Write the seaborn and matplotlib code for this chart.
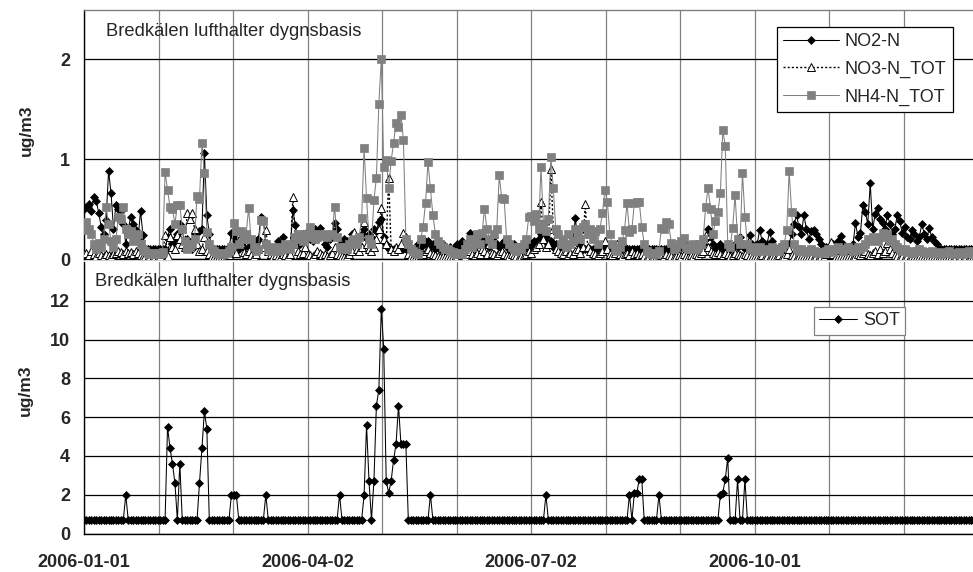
import numpy as np
import pandas as pd
import matplotlib
matplotlib.use("Agg")
import matplotlib.pyplot as plt
import matplotlib.dates as mdates
from matplotlib.ticker import FixedLocator, FixedFormatter
import seaborn as sns

# ---- daily air concentrations, Bredkälen 2006 (ug/m3) ----
start_date = "2006-01-01"

no2 = [
    0.50, 0.52, 0.55, 0.48, 0.62, 0.58, 0.46, 0.32, 0.25, 0.39,
    0.88, 0.66, 0.30, 0.54, 0.50, 0.48, 0.35, 0.15, 0.30, 0.42,
    0.35, 0.29, 0.20, 0.48, 0.24, 0.10, 0.10, 0.10, 0.10, 0.10,
    0.10, 0.10, 0.10, 0.10, 0.22, 0.30, 0.15, 0.20, 0.25, 0.35,
    0.30, 0.12, 0.20, 0.15, 0.10, 0.25, 0.26, 0.28, 0.30, 1.06,
    0.44, 0.25, 0.10, 0.10, 0.10, 0.10, 0.10, 0.10, 0.10, 0.10,
    0.26, 0.22, 0.18, 0.10, 0.15, 0.12, 0.20, 0.12, 0.10, 0.15,
    0.18, 0.20, 0.42, 0.40, 0.15, 0.12, 0.10, 0.10, 0.12, 0.18,
    0.15, 0.22, 0.12, 0.10, 0.12, 0.49, 0.34, 0.20, 0.15, 0.25,
    0.22, 0.28, 0.20, 0.18, 0.30, 0.20, 0.31, 0.25, 0.15, 0.12,
    0.20, 0.25, 0.36, 0.30, 0.15, 0.12, 0.20, 0.18, 0.15, 0.25,
    0.20, 0.15, 0.22, 0.25, 0.30, 0.20, 0.25, 0.22, 0.30, 0.28,
    0.37, 0.40, 0.22, 0.15, 0.10, 0.10, 0.10, 0.10, 0.10, 0.10,
    0.10, 0.10, 0.10, 0.10, 0.10, 0.10, 0.15, 0.12, 0.20, 0.15,
    0.18, 0.12, 0.15, 0.10, 0.12, 0.10, 0.15, 0.12, 0.10, 0.12,
    0.10, 0.12, 0.15, 0.10, 0.18, 0.12, 0.15, 0.26, 0.18, 0.12,
    0.15, 0.20, 0.12, 0.18, 0.15, 0.12, 0.18, 0.22, 0.15, 0.12,
    0.15, 0.18, 0.12, 0.10, 0.12, 0.15, 0.10, 0.12, 0.10, 0.15,
    0.12, 0.10, 0.15, 0.18, 0.12, 0.20, 0.25, 0.31, 0.22, 0.15,
    0.18, 0.12, 0.15, 0.10, 0.12, 0.15, 0.10, 0.12, 0.15, 0.20,
    0.41, 0.15, 0.10, 0.10, 0.10, 0.10, 0.10, 0.10, 0.10, 0.10,
    0.10, 0.10, 0.10, 0.10, 0.10, 0.10, 0.10, 0.10, 0.12, 0.10,
    0.12, 0.10, 0.10, 0.10, 0.10, 0.10, 0.10, 0.10, 0.10, 0.10,
    0.10, 0.10, 0.10, 0.10, 0.10, 0.10, 0.10, 0.10, 0.10, 0.10,
    0.10, 0.12, 0.15, 0.12, 0.10, 0.15, 0.12, 0.10, 0.12, 0.15,
    0.12, 0.10, 0.15, 0.20, 0.30, 0.22, 0.15, 0.10, 0.12, 0.15,
    0.10, 0.12, 0.15, 0.10, 0.12, 0.15, 0.12, 0.22, 0.15, 0.10,
    0.15, 0.24, 0.15, 0.12, 0.15, 0.29, 0.18, 0.12, 0.15, 0.27,
    0.18, 0.12, 0.10, 0.12, 0.10, 0.12, 0.15, 0.15, 0.25, 0.35,
    0.44, 0.32, 0.25, 0.44, 0.30, 0.20, 0.28, 0.29, 0.25, 0.20,
    0.15, 0.10, 0.12, 0.10, 0.12, 0.15, 0.12, 0.18, 0.23, 0.15,
    0.10, 0.12, 0.10, 0.15, 0.36, 0.22, 0.26, 0.54, 0.47, 0.35,
    0.76, 0.30, 0.45, 0.51, 0.40, 0.36, 0.30, 0.44, 0.35, 0.25,
    0.30, 0.44, 0.38, 0.26, 0.32, 0.22, 0.20, 0.29, 0.25, 0.18,
    0.22, 0.35, 0.25, 0.20, 0.31, 0.22, 0.18, 0.15, 0.10, 0.10,
    0.10, 0.10, 0.10, 0.10, 0.10, 0.10, 0.10, 0.10, 0.10, 0.10,
    0.10, 0.10, 0.10, 0.10, 0.10,
]

no3 = [
    0.05, 0.06, 0.04, 0.08, 0.05, 0.03, 0.06, 0.04, 0.03, 0.05,
    0.04, 0.03, 0.05, 0.06, 0.08, 0.07, 0.05, 0.08, 0.06, 0.07,
    0.05, 0.08, 0.06, 0.04, 0.03, 0.03, 0.02, 0.03, 0.02, 0.03,
    0.02, 0.03, 0.05, 0.24, 0.03, 0.22, 0.12, 0.10, 0.24, 0.20,
    0.15, 0.12, 0.46, 0.40, 0.46, 0.30, 0.15, 0.08, 0.10, 0.22,
    0.08, 0.05, 0.03, 0.02, 0.03, 0.02, 0.03, 0.02, 0.03, 0.04,
    0.08, 0.12, 0.06, 0.19, 0.16, 0.07, 0.05, 0.08, 0.04, 0.03,
    0.05, 0.10, 0.15, 0.12, 0.29, 0.08, 0.05, 0.03, 0.04, 0.02,
    0.03, 0.05, 0.04, 0.03, 0.05, 0.62, 0.15, 0.08, 0.05, 0.06,
    0.12, 0.05, 0.04, 0.03, 0.05, 0.08, 0.06, 0.04, 0.05, 0.03,
    0.04, 0.06, 0.12, 0.05, 0.04, 0.03, 0.02, 0.03, 0.05, 0.08,
    0.27, 0.10, 0.08, 0.12, 0.37, 0.15, 0.10, 0.08, 0.12, 0.20,
    0.30, 0.51, 0.20, 0.15, 0.81, 0.10, 0.08, 0.12, 0.10, 0.15,
    0.26, 0.22, 0.05, 0.03, 0.02, 0.03, 0.02, 0.04, 0.05, 0.08,
    0.10, 0.06, 0.05, 0.04, 0.03, 0.02, 0.03, 0.02, 0.03, 0.02,
    0.03, 0.02, 0.03, 0.05, 0.04, 0.03, 0.05, 0.08, 0.05, 0.04,
    0.06, 0.05, 0.10, 0.08, 0.05, 0.15, 0.06, 0.05, 0.04, 0.06,
    0.08, 0.05, 0.04, 0.03, 0.05, 0.04, 0.03, 0.02, 0.03, 0.04,
    0.05, 0.08, 0.06, 0.10, 0.12, 0.15, 0.57, 0.20, 0.12, 0.15,
    0.90, 0.30, 0.10, 0.08, 0.06, 0.05, 0.08, 0.04, 0.06, 0.05,
    0.08, 0.10, 0.06, 0.12, 0.55, 0.12, 0.08, 0.06, 0.05, 0.04,
    0.06, 0.08, 0.18, 0.10, 0.05, 0.04, 0.06, 0.15, 0.05, 0.03,
    0.05, 0.06, 0.04, 0.08, 0.05, 0.06, 0.04, 0.05, 0.03, 0.02,
    0.03, 0.02, 0.03, 0.02, 0.03, 0.04, 0.03, 0.05, 0.04, 0.03,
    0.02, 0.03, 0.04, 0.03, 0.05, 0.03, 0.02, 0.04, 0.03, 0.05,
    0.04, 0.06, 0.08, 0.24, 0.12, 0.08, 0.06, 0.05, 0.07, 0.05,
    0.04, 0.06, 0.05, 0.03, 0.04, 0.06, 0.05, 0.04, 0.03, 0.05,
    0.04, 0.03, 0.02, 0.03, 0.02, 0.03, 0.04, 0.02, 0.03, 0.02,
    0.03, 0.02, 0.03, 0.04, 0.02, 0.03, 0.05, 0.10, 0.04, 0.03,
    0.02, 0.03, 0.02, 0.03, 0.02, 0.03, 0.02, 0.02, 0.03, 0.02,
    0.03, 0.02, 0.05, 0.08, 0.17, 0.05, 0.03, 0.02, 0.03, 0.02,
    0.03, 0.02, 0.03, 0.02, 0.03, 0.05, 0.04, 0.06, 0.08, 0.05,
    0.04, 0.06, 0.08, 0.05, 0.10, 0.06, 0.08, 0.16, 0.10, 0.06,
    0.04, 0.03, 0.02, 0.03, 0.02, 0.03, 0.02, 0.03, 0.02, 0.03,
    0.02, 0.03, 0.02, 0.03, 0.02, 0.03, 0.02, 0.03, 0.02, 0.02,
    0.03, 0.02, 0.03, 0.02, 0.02, 0.03, 0.02, 0.03, 0.02, 0.03,
    0.02, 0.03, 0.02, 0.03, 0.02,
]

nh4 = [
    0.29, 0.37, 0.30, 0.25, 0.15, 0.10, 0.16, 0.12, 0.20, 0.52,
    0.35, 0.18, 0.12, 0.20, 0.42, 0.40, 0.52, 0.30, 0.25, 0.28,
    0.18, 0.22, 0.25, 0.15, 0.10, 0.08, 0.06, 0.05, 0.06, 0.05,
    0.06, 0.05, 0.07, 0.87, 0.69, 0.52, 0.50, 0.35, 0.54, 0.54,
    0.30, 0.18, 0.10, 0.12, 0.15, 0.20, 0.63, 0.60, 1.16, 0.86,
    0.27, 0.15, 0.10, 0.08, 0.06, 0.05, 0.06, 0.05, 0.06, 0.08,
    0.12, 0.36, 0.28, 0.15, 0.28, 0.20, 0.25, 0.51, 0.20, 0.12,
    0.08, 0.10, 0.39, 0.38, 0.15, 0.10, 0.08, 0.12, 0.10, 0.08,
    0.12, 0.10, 0.15, 0.12, 0.10, 0.15, 0.22, 0.25, 0.20, 0.18,
    0.25, 0.22, 0.32, 0.25, 0.20, 0.22, 0.25, 0.23, 0.25, 0.22,
    0.24, 0.25, 0.52, 0.22, 0.12, 0.10, 0.12, 0.10, 0.15, 0.18,
    0.20, 0.15, 0.22, 0.41, 1.11, 0.61, 0.20, 0.15, 0.59, 0.81,
    1.55, 2.00, 0.92, 0.99, 0.71, 0.98, 1.16, 1.36, 1.32, 1.44,
    1.19, 0.20, 0.15, 0.10, 0.08, 0.06, 0.05, 0.20, 0.32, 0.56,
    0.97, 0.71, 0.44, 0.25, 0.18, 0.15, 0.12, 0.10, 0.10, 0.08,
    0.07, 0.06, 0.05, 0.06, 0.05, 0.10, 0.15, 0.20, 0.12, 0.18,
    0.25, 0.15, 0.26, 0.50, 0.30, 0.20, 0.15, 0.25, 0.30, 0.84,
    0.61, 0.60, 0.20, 0.15, 0.12, 0.10, 0.08, 0.12, 0.10, 0.15,
    0.20, 0.42, 0.43, 0.38, 0.45, 0.30, 0.92, 0.35, 0.28, 0.40,
    1.02, 0.71, 0.30, 0.25, 0.15, 0.20, 0.12, 0.25, 0.15, 0.18,
    0.30, 0.25, 0.20, 0.32, 0.35, 0.25, 0.30, 0.20, 0.28, 0.15,
    0.30, 0.46, 0.69, 0.57, 0.25, 0.15, 0.10, 0.08, 0.12, 0.18,
    0.29, 0.56, 0.27, 0.30, 0.56, 0.57, 0.57, 0.32, 0.15, 0.08,
    0.06, 0.05, 0.06, 0.05, 0.08, 0.31, 0.30, 0.37, 0.35, 0.16,
    0.10, 0.12, 0.15, 0.18, 0.21, 0.12, 0.10, 0.12, 0.15, 0.10,
    0.12, 0.15, 0.20, 0.52, 0.71, 0.50, 0.25, 0.38, 0.47, 0.66,
    1.29, 1.13, 0.15, 0.12, 0.31, 0.64, 0.20, 0.15, 0.86, 0.42,
    0.15, 0.10, 0.12, 0.08, 0.10, 0.12, 0.08, 0.10, 0.08, 0.10,
    0.12, 0.08, 0.10, 0.08, 0.12, 0.15, 0.29, 0.88, 0.47, 0.15,
    0.10, 0.08, 0.10, 0.08, 0.07, 0.08, 0.10, 0.08, 0.07, 0.06,
    0.07, 0.06, 0.08, 0.10, 0.08, 0.07, 0.10, 0.12, 0.10, 0.08,
    0.10, 0.12, 0.10, 0.08, 0.10, 0.12, 0.10, 0.12, 0.15, 0.20,
    0.18, 0.22, 0.20, 0.18, 0.22, 0.26, 0.22, 0.25, 0.18, 0.20,
    0.15, 0.12, 0.10, 0.08, 0.10, 0.07, 0.08, 0.06, 0.07, 0.08,
    0.10, 0.08, 0.07, 0.06, 0.07, 0.08, 0.06, 0.07, 0.06, 0.05,
    0.06, 0.07, 0.08, 0.06, 0.05, 0.06, 0.07, 0.05, 0.06, 0.07,
    0.08, 0.06, 0.05, 0.06, 0.07,
]

sot = [
    0.7, 0.7, 0.7, 0.7, 0.7, 0.7, 0.7, 0.7, 0.7, 0.7,
    0.7, 0.7, 0.7, 0.7, 0.7, 0.7, 0.7, 2.0, 0.7, 0.7,
    0.7, 0.7, 0.7, 0.7, 0.7, 0.7, 0.7, 0.7, 0.7, 0.7,
    0.7, 0.7, 0.7, 0.7, 5.5, 4.4, 3.6, 2.6, 0.7, 3.6,
    0.7, 0.7, 0.7, 0.7, 0.7, 0.7, 0.7, 2.6, 4.4, 6.3,
    5.4, 0.7, 0.7, 0.7, 0.7, 0.7, 0.7, 0.7, 0.7, 0.7,
    2.0, 2.0, 2.0, 0.7, 0.7, 0.7, 0.7, 0.7, 0.7, 0.7,
    0.7, 0.7, 0.7, 0.7, 2.0, 0.7, 0.7, 0.7, 0.7, 0.7,
    0.7, 0.7, 0.7, 0.7, 0.7, 0.7, 0.7, 0.7, 0.7, 0.7,
    0.7, 0.7, 0.7, 0.7, 0.7, 0.7, 0.7, 0.7, 0.7, 0.7,
    0.7, 0.7, 0.7, 0.7, 2.0, 0.7, 0.7, 0.7, 0.7, 0.7,
    0.7, 0.7, 0.7, 0.7, 2.0, 5.6, 2.7, 0.7, 2.7, 6.6,
    7.4, 11.6, 9.5, 2.7, 2.1, 2.7, 3.8, 4.6, 6.6, 4.6,
    4.6, 4.6, 0.7, 0.7, 0.7, 0.7, 0.7, 0.7, 0.7, 0.7,
    0.7, 2.0, 0.7, 0.7, 0.7, 0.7, 0.7, 0.7, 0.7, 0.7,
    0.7, 0.7, 0.7, 0.7, 0.7, 0.7, 0.7, 0.7, 0.7, 0.7,
    0.7, 0.7, 0.7, 0.7, 0.7, 0.7, 0.7, 0.7, 0.7, 0.7,
    0.7, 0.7, 0.7, 0.7, 0.7, 0.7, 0.7, 0.7, 0.7, 0.7,
    0.7, 0.7, 0.7, 0.7, 0.7, 0.7, 0.7, 0.7, 2.0, 0.7,
    0.7, 0.7, 0.7, 0.7, 0.7, 0.7, 0.7, 0.7, 0.7, 0.7,
    0.7, 0.7, 0.7, 0.7, 0.7, 0.7, 0.7, 0.7, 0.7, 0.7,
    0.7, 0.7, 0.7, 0.7, 0.7, 0.7, 0.7, 0.7, 0.7, 0.7,
    0.7, 0.7, 2.0, 0.7, 2.1, 2.1, 2.8, 2.8, 0.7, 0.7,
    0.7, 0.7, 0.7, 0.7, 2.0, 0.7, 0.7, 0.7, 0.7, 0.7,
    0.7, 0.7, 0.7, 0.7, 0.7, 0.7, 0.7, 0.7, 0.7, 0.7,
    0.7, 0.7, 0.7, 0.7, 0.7, 0.7, 0.7, 0.7, 0.7, 2.0,
    2.1, 2.8, 3.9, 0.7, 0.7, 0.7, 2.8, 0.7, 0.7, 2.8,
    0.7, 0.7, 0.7, 0.7, 0.7, 0.7, 0.7, 0.7, 0.7, 0.7,
    0.7, 0.7, 0.7, 0.7, 0.7, 0.7, 0.7, 0.7, 0.7, 0.7,
    0.7, 0.7, 0.7, 0.7, 0.7, 0.7, 0.7, 0.7, 0.7, 0.7,
    0.7, 0.7, 0.7, 0.7, 0.7, 0.7, 0.7, 0.7, 0.7, 0.7,
    0.7, 0.7, 0.7, 0.7, 0.7, 0.7, 0.7, 0.7, 0.7, 0.7,
    0.7, 0.7, 0.7, 0.7, 0.7, 0.7, 0.7, 0.7, 0.7, 0.7,
    0.7, 0.7, 0.7, 0.7, 0.7, 0.7, 0.7, 0.7, 0.7, 0.7,
    0.7, 0.7, 0.7, 0.7, 0.7, 0.7, 0.7, 0.7, 0.7, 0.7,
    0.7, 0.7, 0.7, 0.7, 0.7, 0.7, 0.7, 0.7, 0.7, 0.7,
    0.7, 0.7, 0.7, 0.7, 0.7,
]

series_names = ["NO2-N", "NO3-N_TOT", "NH4-N_TOT"]
sot_name = "SOT"
panel_title = "Bredkälen lufthalter dygnsbasis"
unit_label = "ug/m3"
date_labels = ["2006-01-01", "2006-04-02", "2006-07-02", "2006-10-01"]
top_yticks = [0, 1, 2]
bottom_yticks = [0, 2, 4, 6, 8, 10, 12]

for name, vals in zip(series_names + [sot_name], [no2, no3, nh4, sot]):
    assert len(vals) == 365, (name, len(vals))

dates = pd.date_range(start_date, periods=len(sot), freq="D")
df = pd.DataFrame({"date": dates, series_names[0]: no2, series_names[1]: no3,
                   series_names[2]: nh4, sot_name: sot})

# ---- styling ----
sns.set_style("white")
plt.rcParams["font.family"] = ["Liberation Sans", "DejaVu Sans"]

W, H = 973, 572
fig = plt.figure(figsize=(W / 100, H / 100), dpi=100)


def px_box(left, top, right, bottom):
    return [left / W, 1 - bottom / H, (right - left) / W, (bottom - top) / H]


ax1 = fig.add_axes(px_box(84, 10, 973, 259))
ax2 = fig.add_axes(px_box(84, 262, 973, 533.5))

day0 = mdates.date2num(pd.Timestamp(start_date))
x_right = day0 + (973 - 84) / 2.457
grid_pos = day0 + np.arange(0, 13) * 91 / 3
grid_lab = [date_labels[k // 3] if k % 3 == 0 and k // 3 < len(date_labels) else ""
            for k in range(len(grid_pos))]

GRAY = "#808080"

# top panel: nitrogen species
sns.lineplot(data=df, x="date", y=series_names[0], ax=ax1, color="black",
             marker="D", markersize=4.3, markeredgecolor="black",
             markeredgewidth=0.5, linewidth=0.75, errorbar=None,
             legend=False, label=series_names[0], zorder=3)
sns.lineplot(data=df, x="date", y=series_names[1], ax=ax1, color="black",
             linestyle=(0, (1.5, 1.5)), marker="^", markersize=5.8,
             markerfacecolor="white", markeredgecolor="black",
             markeredgewidth=0.7, linewidth=1.0, errorbar=None,
             legend=False, label=series_names[1], zorder=4)
sns.lineplot(data=df, x="date", y=series_names[2], ax=ax1, color=GRAY,
             marker="s", markersize=5.5, markeredgecolor=GRAY,
             markeredgewidth=0.5, linewidth=0.75, errorbar=None,
             legend=False, label=series_names[2], zorder=5)

# bottom panel: soot
sns.lineplot(data=df, x="date", y=sot_name, ax=ax2, color="black",
             marker="D", markersize=4.3, markeredgecolor="black",
             markeredgewidth=0.5, linewidth=0.75, errorbar=None,
             legend=False, label=sot_name, zorder=3)

for ax, ymax, yt in [(ax1, 2.49, top_yticks), (ax2, 14.0, bottom_yticks)]:
    ax.set_xlim(day0, x_right)
    ax.set_ylim(0, ymax)
    ax.xaxis.set_major_locator(FixedLocator(grid_pos))
    ax.xaxis.set_major_formatter(FixedFormatter(grid_lab))
    ax.set_yticks(yt)
    ax.set_yticklabels([str(v) for v in yt])
    ax.grid(axis="x", color=GRAY, linewidth=0.9, zorder=0)
    ax.grid(axis="y", color="black", linewidth=0.9, zorder=0)
    ax.set_axisbelow(True)
    ax.set_xlabel("")
    ax.set_ylabel("")
    ax.spines["right"].set_visible(False)
    ax.spines["left"].set_color("black")
    ax.spines["bottom"].set_color("black")
    ax.spines["left"].set_linewidth(1.0)
    ax.spines["bottom"].set_linewidth(1.0)
    ax.tick_params(axis="y", length=0, pad=10, labelsize=13)
    for t in ax.get_yticklabels():
        t.set_fontweight("bold")

ax1.spines["top"].set_color(GRAY)
ax1.spines["top"].set_linewidth(1.0)
ax2.spines["top"].set_visible(False)

ax1.tick_params(axis="x", length=4, width=0.9, color="black", direction="out",
                labelbottom=False)
ax2.tick_params(axis="x", length=0, pad=15, labelsize=13)
for t in ax2.get_xticklabels():
    t.set_fontweight("bold")

# panel captions and unit labels
fig.text(106 / W, 1 - 31 / H, panel_title, fontsize=13.2, va="center", ha="left")
fig.text(95 / W, 1 - 281 / H, panel_title, fontsize=13.2, va="center", ha="left")
fig.text(26 / W, 1 - 130 / H, unit_label, rotation=90, fontsize=12.5,
         fontweight="bold", va="center", ha="center")
fig.text(25 / W, 1 - 390 / H, unit_label, rotation=90, fontsize=12.5,
         fontweight="bold", va="center", ha="center")

# legends
leg1 = ax1.legend(handles=ax1.get_lines()[:3], labels=series_names,
                  loc="upper left", bbox_to_anchor=((777 - 84) / 889, (259 - 27) / 249),
                  bbox_transform=ax1.transAxes, borderaxespad=0, fontsize=13,
                  frameon=True, fancybox=False, shadow=False, framealpha=1,
                  edgecolor="black", handlelength=3.1, handletextpad=0.3,
                  labelspacing=0.58, borderpad=0.35, numpoints=1)
leg1.get_frame().set_linewidth(0.9)

leg2 = ax2.legend(handles=ax2.get_lines()[:1], labels=[sot_name],
                  loc="upper left", bbox_to_anchor=((814 - 84) / 889, (533.5 - 307) / 271.5),
                  bbox_transform=ax2.transAxes, borderaxespad=0, fontsize=13,
                  frameon=True, fancybox=False, shadow=False, framealpha=1,
                  edgecolor=GRAY, handlelength=2.1, handletextpad=0.3,
                  borderpad=0.3, numpoints=1)
leg2.get_frame().set_linewidth(0.9)

fig.savefig("out.png", dpi=100)
